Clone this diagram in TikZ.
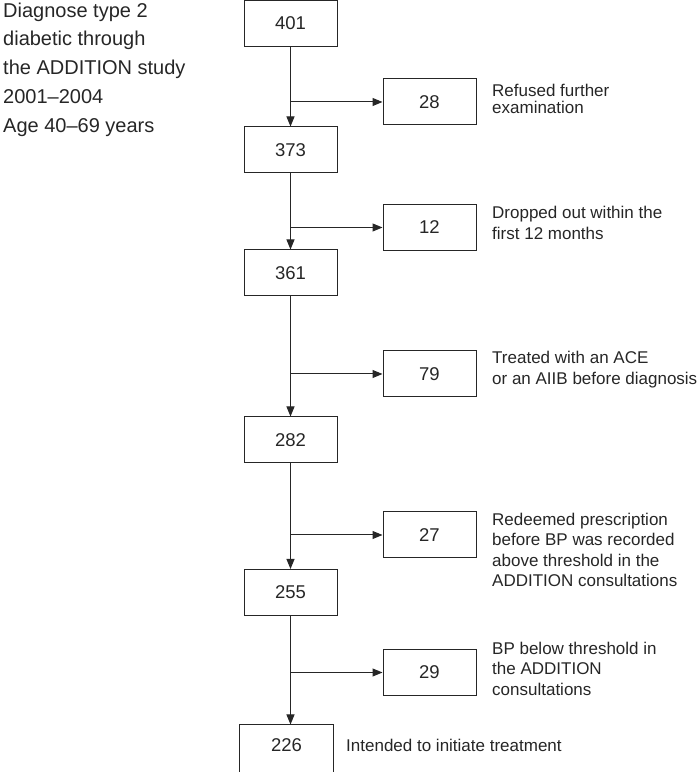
\documentclass[tikz,border=0pt]{standalone}
\usepackage{fontspec}
\setmainfont{Liberation Sans}
\usetikzlibrary{arrows.meta}

\begin{document}
\begin{tikzpicture}[x=1pt,y=1pt]
	\tikzstyle{every node}=[text=black!85]
	\tikzstyle{count}=[draw=black!85, line width=1pt, minimum width=93pt, minimum height=46pt, inner sep=0pt, font=\fontsize{18.5}{20}\selectfont]
	\tikzstyle{note}=[anchor=north west, align=left, inner sep=0pt, font=\fontsize{17}{20.5}\selectfont]
	\tikzstyle{flow}=[draw=black!85, line width=1pt, -{Triangle[length=10pt,width=8pt]}]
	\useasboundingbox (0,0) rectangle (700,772);
	\node[anchor=north west, align=left, inner sep=0pt, font=\fontsize{20}{28.75}\selectfont] (intro) at (3,769.5)
		{Diagnose type 2\\diabetic through\\the ADDITION study\\2001--2004\\Age 40--69 years};
	% main column
	\node[count] (m401) at (290.5,748.5) {401};
	\node[count] (m373) at (290.5,622) {373};
	\node[count] (m361) at (290.5,499) {361};
	\node[count] (m282) at (290.5,332) {282};
	\node[count] (m255) at (290.5,179.5) {255};
	\node[count, draw=none, minimum height=40pt] (m226) at (286.5,27) {226};
	\draw[draw=black!85, line width=1pt] ([yshift=-10pt]m226.south west) |- (m226.north east) -- ([yshift=-10pt]m226.south east);
	% excluded
	\node[count] (s28) at (429.5,670) {28};
	\node[count] (s12) at (429.5,544.5) {12};
	\node[count] (s79) at (429.5,398) {79};
	\node[count] (s27) at (429.5,237) {27};
	\node[count] (s29) at (429.5,99.5) {29};
	% reasons
	\node[note, font=\fontsize{17}{17.5}\selectfont] (r28) at (492,688.5) {Refused further\\examination};
	\node[note] (r12) at (492,566) {Dropped out within the\\first 12 months};
	\node[note] (r79) at (492,421) {Treated with an ACE\\or an AIIB before diagnosis};
	\node[note] (r27) at (492,259.5) {Redeemed prescription\\before BP was recorded\\above threshold in the\\ADDITION consultations};
	\node[note] (r29) at (492,130.5) {BP below threshold in\\the ADDITION\\consultations};
	\node[note] (r226) at (346,33.5) {Intended to initiate treatment};
	% arrows
	\draw[flow] (m401) -- (m373);
	\draw[flow] (m373) -- (m361);
	\draw[flow] (m361) -- (m282);
	\draw[flow] (m282) -- (m255);
	\draw[flow] (m255.south) -- (m255.south |- m226.north);
	\draw[flow] (m401.south |- s28) -- (s28);
	\draw[flow] (m373.south |- s12) -- (s12);
	\draw[flow] (m361.south |- s79) -- (s79);
	\draw[flow] (m282.south |- s27) -- (s27);
	\draw[flow] (m255.south |- s29) -- (s29);
\end{tikzpicture}
\end{document}
